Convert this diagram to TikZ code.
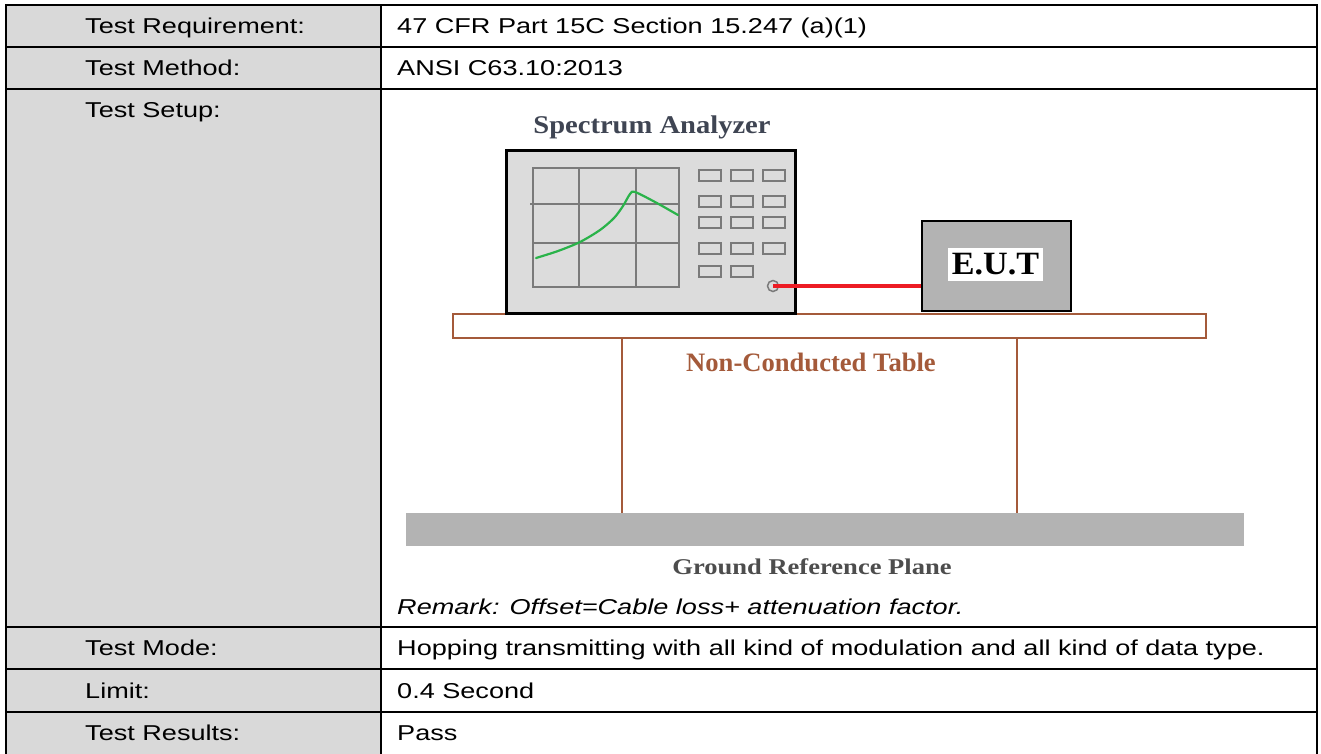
\documentclass[tikz,border=0pt]{standalone}
\usepackage{fontspec}
\setmainfont{Liberation Sans}[FakeStretch=1.26]
\newfontfamily\serifSA{Liberation Serif}[FakeStretch=1.12]
\newfontfamily\serifNC{Liberation Serif}[FakeStretch=1.0]
\newfontfamily\serifGR{Liberation Serif}[FakeStretch=1.18]
\newfontfamily\serifEU{Liberation Serif}[FakeStretch=1.05]
\definecolor{cellgray}{HTML}{D9D9D9}
\definecolor{boxgray}{HTML}{DCDCDC}
\definecolor{gridgray}{HTML}{7A7A7A}
\definecolor{eutgray}{HTML}{B3B3B3}
\definecolor{tablebrown}{HTML}{A45A3A}
\definecolor{curvegreen}{HTML}{2AB34A}
\definecolor{cablered}{HTML}{ED1C24}
\definecolor{slatetext}{HTML}{3F4553}
\definecolor{grtext}{HTML}{4D4D4D}
\tikzset{
  cell/.style={inner sep=0pt, anchor=base west, font=\fontsize{21.5}{25}\selectfont},
  gridline/.style={draw=gridgray, line width=2pt},
  btn/.style={draw=gridgray, line width=2pt, fill=boxgray},
  tbl/.style={draw=black, line width=2.5pt},
  brown/.style={draw=tablebrown, line width=2.2pt},
}
\begin{document}
\begin{tikzpicture}[x=1pt, y=-1pt]
\useasboundingbox (0,0) rectangle (1321,753);
\clip (0,0) rectangle (1321,753);
\fill[white] (0,0) rectangle (1321,753);
% table
\fill[cellgray] (6,5) rectangle (381,756);
\draw[tbl] (6,5) rectangle (1317,755);
\draw[tbl] (381,5) -- (381,755);
\foreach \yy in {47,89,627,669,712} \draw[tbl] (6,\yy) -- (1317,\yy);
% left column labels
\node[cell] (l1) at (85,33.5) {Test Requirement:};
\node[cell] (l2) at (85,75.5) {Test Method:};
\node[cell] (l3) at (85,117) {Test Setup:};
\node[cell] (l4) at (85,655.5) {Test Mode:};
\node[cell] (l5) at (85,698) {Limit:};
\node[cell] (l6) at (85,740.5) {Test Results:};
% right column texts
\node[cell] (r1) at (397,33.5) {47 CFR Part 15C Section 15.247 (a)(1)};
\node[cell] (r2) at (397,75.5) {ANSI C63.10:2013};
\node[cell] (r3) at (397,614) {\itshape Remark: Offset=Cable loss+ attenuation factor.};
\node[cell] (r4) at (397,655.5) {Hopping transmitting with all kind of modulation and all kind of data type.};
\node[cell] (r5) at (397,698) {0.4 Second};
\node[cell] (r6) at (397,740.5) {Pass};
% ground plane
\fill[eutgray] (406,513) rectangle (1244,546);
\node[inner sep=0pt, text=grtext, font=\serifGR\bfseries\fontsize{22.5}{26}\selectfont] (grp) at (812,567) {Ground Reference Plane};
% table legs and top
\draw[brown] (622,338) -- (622,513);
\draw[brown] (1017,338) -- (1017,513);
\draw[brown, fill=white] (453,314) rectangle (1206,338);
\node[inner sep=0pt, text=tablebrown, font=\serifNC\bfseries\fontsize{26.6}{30}\selectfont] (nct) at (811,362) {Non-Conducted Table};
% spectrum analyzer
\node[inner sep=0pt, text=slatetext, font=\serifSA\bfseries\fontsize{25.5}{29}\selectfont] (salab) at (652,127) {Spectrum Analyzer};
\draw[black, line width=3pt, fill=boxgray] (506,150) rectangle (795,313);
\draw[gridline] (533,168) rectangle (679,287);
\draw[gridline] (579,168) -- (579,287);
\draw[gridline] (636,168) -- (636,287);
\draw[gridline] (530,204) -- (679,204);
\draw[gridline] (533,243) -- (679,243);
\draw[curvegreen, line width=2.2pt, line cap=round, line join=round] plot[smooth, tension=0.5] coordinates {(536,258) (558,251) (580,242) (600,230) (614,218) (623,206) (630,194) (635,192) (655,202) (678,215)};
\foreach \bx in {699,731,763} {
  \foreach \by in {170,196,217,243} \draw[btn] (\bx,\by) rectangle ++(22,11);
}
\foreach \bx in {699,731} \draw[btn] (\bx,266) rectangle ++(22,11);
\node[circle, draw=gridgray, line width=1.5pt, minimum size=11pt, inner sep=0pt] (port) at (773,286) {};
% EUT
\node[draw=black, line width=2.5pt, fill=eutgray, minimum width=149pt, minimum height=90pt, inner sep=0pt] (eut) at (996.5,266) {};
\node[fill=white, inner sep=0pt, minimum width=95pt, minimum height=33pt, font=\serifEU\bfseries\fontsize{32.5}{36}\selectfont] (eutlab) at (995.5,264.5) {E.U.T};
% cable
\draw[cablered, line width=4pt] (port.center) -- (port.center -| eut.west);
\end{tikzpicture}
\end{document}
